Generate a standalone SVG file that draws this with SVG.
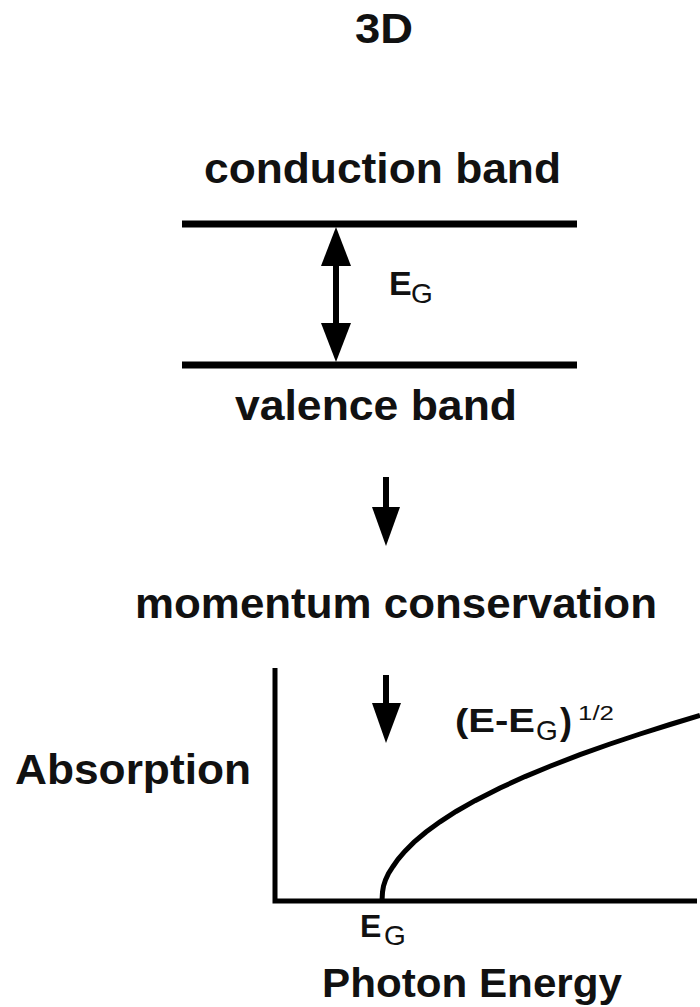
<svg xmlns="http://www.w3.org/2000/svg" width="700" height="1007" viewBox="0 0 700 1007">
<style>
.t{font-family:"Liberation Sans",Arial,sans-serif;font-weight:bold;fill:#111;}
.r{font-family:"Liberation Sans",Arial,sans-serif;font-weight:normal;fill:#111;}
.ln{stroke:#000;fill:none;}
.ah{fill:#000;stroke:none;}
</style>
<rect width="700" height="1007" fill="#fff"/>
<g id="title"><text class="t" x="355" y="43" font-size="42" textLength="58" lengthAdjust="spacingAndGlyphs">3D</text></g>
<g id="conduction-band">
<text class="t" x="204" y="183" font-size="42" textLength="357" lengthAdjust="spacingAndGlyphs">conduction band</text>
<line class="ln" x1="182" y1="224" x2="577" y2="224" stroke-width="7"/>
</g>
<g id="valence-band">
<line class="ln" x1="182" y1="365" x2="577" y2="365" stroke-width="7"/>
<text class="t" x="235" y="420" font-size="42" textLength="282" lengthAdjust="spacingAndGlyphs">valence band</text>
</g>
<g id="gap-label">
<text class="t" x="389" y="295" font-size="34">E</text>
<text class="r" x="411" y="303" font-size="28">G</text>
</g>
<g id="momentum"><text class="t" x="135" y="618" font-size="42" textLength="522" lengthAdjust="spacingAndGlyphs">momentum conservation</text></g>
<g id="graph">
<path class="ln" d="M275,668 V901 H697" stroke-width="5"/>
<path class="ln" stroke-width="5" d="M382,901 L382.5,892 L383.5,886 L385.5,880 L388.5,873.5 L393,866.5 L398,859.4 L405,851.1 L414,842.2 L426,832 L440,821.8 L456,811.5 L475,800.7 L500,788 L525,776.6 L550,766.2 L580,754.7 L610,744 L640,734 L670,724.5 L700,715.5"/>
<text class="t" x="15" y="784" font-size="42" textLength="236" lengthAdjust="spacingAndGlyphs">Absorption</text>
<text class="t" x="322" y="997" font-size="40" textLength="300" lengthAdjust="spacingAndGlyphs">Photon Energy</text>
<text class="t" x="360" y="937" font-size="32">E</text>
<text class="r" x="384" y="945" font-size="28">G</text>
<text class="t" x="455" y="732" font-size="34" textLength="80" lengthAdjust="spacingAndGlyphs">(E-E</text>
<text class="r" x="536" y="740" font-size="28">G</text>
<text class="t" x="560" y="734" font-size="36">)</text>
<text class="r" x="578" y="720" font-size="20" textLength="36" lengthAdjust="spacingAndGlyphs">1/2</text>
</g>
<g id="connectors">
<line class="ln" x1="336" y1="262" x2="336" y2="326" stroke-width="6"/>
<polygon class="ah" points="336,227 321,266 351,266"/>
<polygon class="ah" points="336,362 321,323 351,323"/>
<line class="ln" x1="386" y1="477" x2="386" y2="510" stroke-width="6"/>
<polygon class="ah" points="372,507 400,507 386,546"/>
<line class="ln" x1="386" y1="675" x2="386" y2="706" stroke-width="6"/>
<polygon class="ah" points="372,703 401,703 386,743"/>
</g>
</svg>
